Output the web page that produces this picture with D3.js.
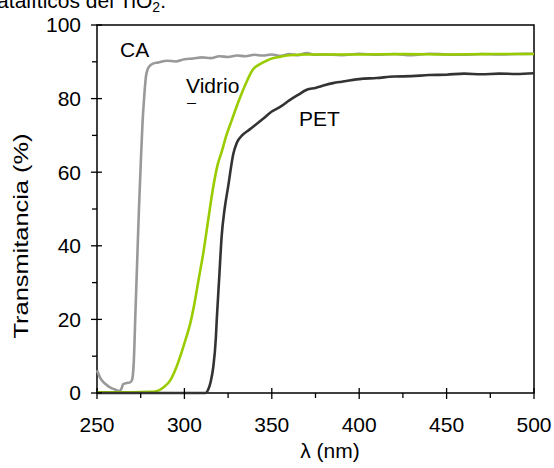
<!DOCTYPE html>
<html lang="en">
<head>
    <meta charset="UTF-8">
    <title>Transmitancia</title>
    <script src="https://d3js.org/d3.v7.min.js"></script>
    <style>
        body { margin: 0; background: #fff; }
        text { font-family: Arial, "Liberation Sans", sans-serif; }
    </style>
</head>
<body>
    <svg width="554" height="468" id="chart"></svg>

    <script>
        // wavelength (nm) and transmittance (%) for each film
        var caWl  = [250, 252, 254, 256, 258, 260, 262, 263, 264, 265, 267, 269, 270, 271, 272, 273, 274, 275, 276, 277, 278, 279, 280, 282, 285, 290, 295, 300, 305, 310, 315, 320, 325, 330, 335, 340, 345, 350, 355, 360, 365, 370, 375, 380, 390, 400, 410, 420, 430, 440, 450, 460, 470, 480, 490, 500];
        var caT   = [6.2, 4.0, 2.8, 2.0, 1.4, 1.0, 0.6, 0.5, 1.2, 2.4, 2.7, 2.9, 3.5, 8, 22, 36, 50, 62, 73, 80.5, 86, 88, 88.8, 89.5, 89.8, 90.3, 90.1, 90.7, 90.9, 91.2, 91.0, 91.5, 91.3, 91.7, 91.5, 91.9, 91.7, 92.0, 91.6, 92.1, 91.8, 92.4, 91.9, 92.0, 91.8, 92.2, 91.9, 92.1, 91.8, 92.2, 92.0, 91.9, 92.1, 92.0, 92.1, 92.2];

        var vidWl = [250, 270, 280, 284, 288, 292, 295, 298, 300, 303.8, 306, 308, 310.8, 313, 316.5, 319, 321.3, 324, 327, 330, 332, 336, 339, 343, 347, 351, 355, 360, 370, 380, 400, 425, 450, 475, 500];
        var vidT  = [0.2, 0.2, 0.3, 0.5, 1.5, 3.5, 6.5, 10.5, 13.5, 19.8, 25, 30.5, 38, 45, 56, 62, 65.5, 70, 74, 78, 80.5, 85, 87.8, 89.3, 90.3, 91.0, 91.4, 91.8, 92.0, 92.0, 92.0, 92.1, 92.0, 92.1, 92.1];

        var petWl = [250, 300, 312, 313.5, 315, 316.5, 318, 318.5, 320, 321.3, 323, 325, 328, 330, 333, 337, 340, 345, 350, 355, 360, 365, 370, 375, 380, 385, 390, 400, 410, 420, 430, 440, 450, 460, 470, 480, 490, 500];
        var petT  = [0, 0, 0, 0.8, 3, 7, 15, 19.8, 32, 42.5, 50, 56, 65, 68, 70, 71.5, 72.6, 74.5, 76.5, 77.8, 79.5, 81, 82.4, 82.9, 83.6, 84.2, 84.6, 85.3, 85.6, 86.0, 86.1, 86.4, 86.5, 86.8, 86.6, 86.8, 86.7, 86.9];

        var xTicks = [250, 300, 350, 400, 450, 500];
        var yTicks = [0, 20, 40, 60, 80, 100];

        var series = [
            { name: "CA", wl: caWl, t: caT, color: "#999999" },
            { name: "Vidrio", wl: vidWl, t: vidT, color: "#99cc00" },
            { name: "PET", wl: petWl, t: petT, color: "#333333" }
        ];

        var fs = 21;

        var svg = d3.select("#chart"),
            margin = { top: 25, right: 20, bottom: 75, left: 97 },
            width = +svg.attr("width") - margin.left - margin.right,
            height = +svg.attr("height") - margin.top - margin.bottom;

        var x = d3.scaleLinear().domain([250, 500]).range([0, width]);
        var y = d3.scaleLinear().domain([0, 100]).range([height, 0]);

        // cut-off caption line from the page above
        svg.append("text")
            .attr("x", 166)
            .attr("y", 8)
            .attr("text-anchor", "end")
            .attr("font-size", fs)
            .html("fotocatalíticos del TiO<tspan font-size='14' dy='4'>2</tspan><tspan dy='-4'>.</tspan>");

        var g = svg.append("g")
            .attr("transform", "translate(" + margin.left + "," + margin.top + ")");

        // frame
        g.append("rect")
            .attr("width", width)
            .attr("height", height)
            .attr("fill", "none")
            .attr("stroke", "#000")
            .attr("stroke-width", 1.5);

        // lines
        var line = d3.line()
            .x(d => x(d[0]))
            .y(d => y(d[1]))
            .curve(d3.curveMonotoneX);

        g.selectAll("path.series")
            .data(series)
            .join("path")
            .attr("class", "series")
            .attr("fill", "none")
            .attr("stroke", d => d.color)
            .attr("stroke-width", 2.6)
            .attr("d", d => line(d.wl.map((w, i) => [w, d.t[i]])));

        // x ticks: major cross the axis, minor outside
        var xa = g.append("g").attr("transform", "translate(0," + height + ")");
        xa.selectAll("line.major")
            .data(xTicks)
            .join("line")
            .attr("x1", d => x(d)).attr("x2", d => x(d))
            .attr("y1", -5).attr("y2", 6)
            .attr("stroke", "#000").attr("stroke-width", 1.3);
        xa.selectAll("line.minor")
            .data(d3.range(275, 500, 50))
            .join("line")
            .attr("x1", d => x(d)).attr("x2", d => x(d))
            .attr("y1", 0).attr("y2", 5)
            .attr("stroke", "#000").attr("stroke-width", 1.3);
        xa.selectAll("text")
            .data(xTicks)
            .join("text")
            .attr("x", d => x(d))
            .attr("y", 39)
            .attr("text-anchor", "middle")
            .attr("font-size", fs)
            .text(d => d);

        var ya = g.append("g");
        ya.selectAll("line.major")
            .data(yTicks)
            .join("line")
            .attr("y1", d => y(d)).attr("y2", d => y(d))
            .attr("x1", -6).attr("x2", 5)
            .attr("stroke", "#000").attr("stroke-width", 1.3);
        ya.selectAll("line.minor")
            .data(d3.range(10, 100, 20))
            .join("line")
            .attr("y1", d => y(d)).attr("y2", d => y(d))
            .attr("x1", -5).attr("x2", 0)
            .attr("stroke", "#000").attr("stroke-width", 1.3);
        ya.selectAll("text")
            .data(yTicks)
            .join("text")
            .attr("x", -16)
            .attr("y", d => y(d))
            .attr("dy", "0.35em")
            .attr("text-anchor", "end")
            .attr("font-size", fs)
            .text(d => d);

        // axis titles
        svg.append("text")
            .attr("x", 330)
            .attr("y", 458)
            .attr("text-anchor", "middle")
            .attr("font-size", fs)
            .text("λ (nm)");

        svg.append("text")
            .attr("transform", "translate(28,236) rotate(-90)")
            .attr("text-anchor", "middle")
            .attr("font-size", fs)
            .attr("textLength", 205)
            .attr("lengthAdjust", "spacingAndGlyphs")
            .text("Transmitancia (%)");

        // series labels
        svg.append("text").attr("x", 120).attr("y", 57).attr("font-size", fs).text("CA");
        svg.append("text").attr("x", 186).attr("y", 93).attr("font-size", fs).text("Vidrio");
        svg.append("text").attr("x", 187).attr("y", 107).attr("font-size", 15)
            .attr("textLength", 9).attr("lengthAdjust", "spacingAndGlyphs").text("–");
        svg.append("text").attr("x", 299).attr("y", 126).attr("font-size", fs).text("PET");
    </script>
</body>
</html>
